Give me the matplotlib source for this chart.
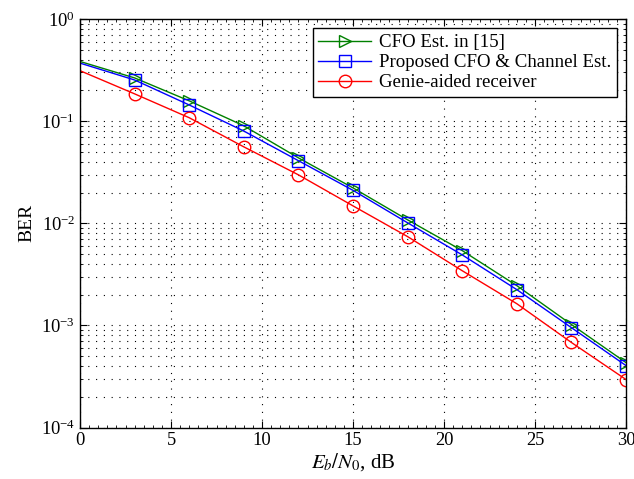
import matplotlib
matplotlib.use("Agg")
import matplotlib.pyplot as plt
from matplotlib.ticker import LogLocator, NullFormatter, MultipleLocator

plt.rcParams['font.family'] = ['Liberation Serif', 'DejaVu Serif']
plt.rcParams['mathtext.fontset'] = 'stix'

ebn0 = [0, 3, 6, 9, 12, 15, 18, 21, 24, 27, 30]
ber_cfo15 = [0.384, 0.265, 0.158, 0.090, 0.0437, 0.0222, 0.0108, 0.0054, 0.00245, 0.00102, 0.000432]
ber_proposed = [0.370, 0.253, 0.144, 0.080, 0.041, 0.0210, 0.0101, 0.0049, 0.00224, 0.00095, 0.000404]
ber_genie = [0.312, 0.185, 0.108, 0.056, 0.0298, 0.0148, 0.0074, 0.00343, 0.00163, 0.00068, 0.000295]
labels = ['CFO Est. in [15]', 'Proposed CFO & Channel Est.', 'Genie-aided receiver']

fig = plt.figure(figsize=(6.34, 4.79), dpi=100)
ax = fig.add_axes([0.1262, 0.1075, 0.8612, 0.8528])

me = slice(1, None)
ax.semilogy(ebn0, ber_cfo15, color='#008000', marker='>', ms=9, mfc='none', lw=1, markevery=me, label=labels[0])
ax.semilogy(ebn0, ber_proposed, color='#0000ff', marker='s', ms=8, mfc='none', lw=1, markevery=me, label=labels[1])
ax.semilogy(ebn0, ber_genie, color='#ff0000', marker='o', ms=9, mfc='none', lw=1, markevery=me, label=labels[2])

ax.set_xlim(0, 30)
ax.set_ylim(1e-4, 1)
ax.xaxis.set_major_locator(MultipleLocator(5))
ax.xaxis.set_minor_locator(MultipleLocator(0.5))
ax.yaxis.set_major_locator(LogLocator(base=10, numticks=10))
ax.yaxis.set_minor_locator(LogLocator(base=10, subs=range(2, 10), numticks=10))
ax.yaxis.set_minor_formatter(NullFormatter())

dots = (0, (1, 6))
ax.grid(True, which='major', linestyle=dots, color='black', lw=0.8)
ax.grid(True, which='minor', axis='y', linestyle=dots, color='black', lw=0.8)

ax.tick_params(which='both', direction='in', top=True, right=True, labelsize=13.3)
ax.tick_params(which='major', length=5)
ax.tick_params(which='minor', length=2.5)
for s in ax.spines.values():
    s.set_linewidth(1.0)

ax.set_xlabel(r'$E_b/N_0$, dB', fontsize=15, labelpad=1)
ax.set_ylabel('BER', fontsize=14)

leg = ax.legend(loc='upper right', fontsize=13.6, fancybox=False, edgecolor='black',
                framealpha=1, handlelength=2.8, borderpad=0.3, labelspacing=0.15,
                handletextpad=0.4, borderaxespad=0.5)
leg.get_frame().set_linewidth(1.0)

fig.savefig('out.png', dpi=100)
